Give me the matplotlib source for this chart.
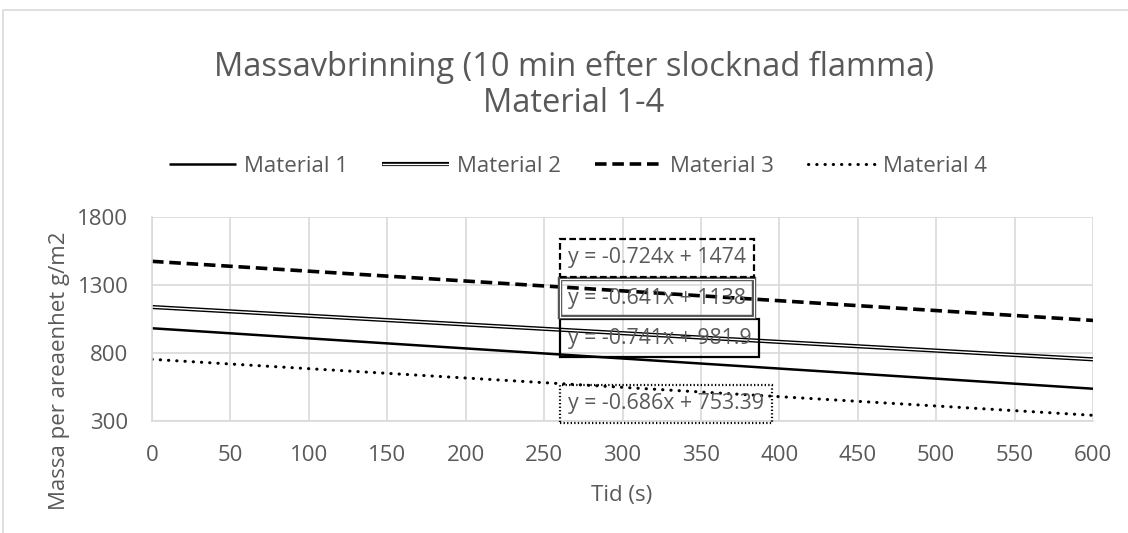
import matplotlib
matplotlib.use("Agg")
import matplotlib.pyplot as plt
import matplotlib.patheffects as pe
from matplotlib.patches import Rectangle

# Fitted mass-loss lines (start and end of the 10-minute window)
time_s = [0, 600]
material_1 = [981.9, 537.3]
material_2 = [1138.0, 753.4]
material_3 = [1474.0, 1039.6]
material_4 = [753.4, 341.8]

series_names = ["Material 1", "Material 2", "Material 3", "Material 4"]
equations = [
    "y = -0.741x + 981.9",
    "y = -0.641x + 1138",
    "y = -0.724x + 1474",
    "y = -0.686x + 753.39",
]
# Equation label anchor points (time, mass)
eq_x = [265, 265, 265, 265]
eq_y = [910, 1204, 1499, 425]

x_ticks = list(range(0, 601, 50))
y_ticks = [300, 800, 1300, 1800]

FONT = "Open Sans"
TXT = "#595959"
GRID = "#d9d9d9"
FS = 16

plt.rcParams["font.family"] = [FONT, "DejaVu Sans"]

fig = plt.figure(figsize=(11.28, 5.33), dpi=100)
ax = fig.add_axes([152 / 1128, 1 - 421 / 533, (1093 - 152) / 1128, (421 - 217) / 533])

# chart frame
fig.patches.append(Rectangle((3 / 1128, -0.1), 1.2, 1 - 10 / 533 + 0.1,
                             transform=fig.transFigure, fill=False,
                             edgecolor="#d9d9d9", lw=1.2))

ax.plot(time_s, material_1, color="black", lw=1.8, solid_capstyle="butt",
        label=series_names[0])
ax.plot(time_s, material_2, color="white", lw=1.0, solid_capstyle="butt",
        path_effects=[pe.Stroke(linewidth=3.0, foreground="black"), pe.Normal()],
        label=series_names[1])
ax.plot(time_s, material_3, color="black", lw=2.6, linestyle=(0, (3.2, 1.6)),
        dash_capstyle="butt", label=series_names[2])
ax.plot(time_s, material_4, color="black", lw=2.2, linestyle=(0, (0.1, 2.6)),
        dash_capstyle="round", label=series_names[3])

box_styles = [
    dict(ls="solid", lw=1.6, ec="black"),
    dict(ls="solid", lw=0.8, ec="white"),
    dict(ls=(0, (3, 1.5)), lw=1.6, ec="black"),
    dict(ls=(0, (0.6, 1.0)), lw=1.6, ec="black"),
]
for i, (txt, x, y, st) in enumerate(zip(equations, eq_x, eq_y, box_styles)):
    t = ax.text(x, y, txt, fontsize=15.3, color=TXT, va="center", ha="left",
                zorder=5,
                bbox=dict(boxstyle="square,pad=0.38", facecolor="none",
                          edgecolor=st["ec"], linewidth=st["lw"],
                          linestyle=st["ls"]))
    if i == 1:
        t.get_bbox_patch().set_path_effects(
            [pe.Stroke(linewidth=3.2, foreground="#555555"), pe.Normal()])

ax.set_xlim(0, 600)
ax.set_ylim(300, 1800)
ax.set_xticks(x_ticks)
ax.set_yticks(y_ticks)
ax.grid(True, color=GRID, lw=1.2)
ax.set_axisbelow(True)
for s in ["top", "right"]:
    ax.spines[s].set_visible(False)
for s in ["left", "bottom"]:
    ax.spines[s].set_color(GRID)
    ax.spines[s].set_linewidth(1.2)
ax.tick_params(length=0, colors=TXT, labelsize=FS)
ax.tick_params(axis="x", pad=17)
ax.tick_params(axis="y", pad=17)

fig.text(622 / 1128, 1 - 496 / 533, "Tid (s)", ha="center", va="center",
         fontsize=FS, color=TXT)
fig.text(60 / 1128, 1 - 371 / 533, "Massa per areaenhet g/m2", ha="center",
         va="center", rotation=90, fontsize=FS, color=TXT)

fig.text(574 / 1128, 1 - 67 / 533, "Massavbrinning (10 min efter slocknad flamma)",
         ha="center", va="center", fontsize=23.5, color=TXT)
fig.text(574 / 1128, 1 - 104 / 533, "Material 1-4", ha="center", va="center",
         fontsize=23.5, color=TXT)

fig.legend(loc="center", bbox_to_anchor=(578 / 1128, 1 - 166 / 533), ncol=4,
           frameon=False, fontsize=FS, labelcolor=TXT, handlelength=3.0,
           handletextpad=0.36, columnspacing=1.55)

fig.savefig("out.png", dpi=100)
